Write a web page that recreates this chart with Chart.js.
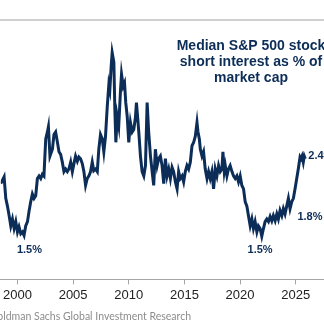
<!DOCTYPE html>
<html>
<head>
<meta charset="utf-8">
<script src="https://cdn.jsdelivr.net/npm/chart.js@4.4.0/dist/chart.umd.min.js"></script>
<style>
  html, body { margin: 0; padding: 0; background: #fff; }
  #wrap { width: 324px; height: 336px; }
</style>
</head>
<body>
<div id="wrap"><canvas id="shortChart" width="324" height="336"></canvas></div>
<script>
// Median S&P 500 stock short interest as % of market cap
const years = [
  1998.50, 1998.80, 1998.95, 1999.10, 1999.25, 1999.40, 1999.55, 1999.70, 1999.85, 2000.00,
  2000.14, 2000.30, 2000.45, 2000.59, 2000.74, 2000.90, 2001.04, 2001.19, 2001.34, 2001.49,
  2001.64, 2001.79, 2001.94, 2002.09, 2002.24, 2002.38, 2002.54, 2002.69, 2002.78, 2002.92,
  2003.14, 2003.28, 2003.43, 2003.59, 2003.73, 2003.88, 2004.03, 2004.18, 2004.33, 2004.48,
  2004.62, 2004.78, 2004.93, 2005.07, 2005.22, 2005.38, 2005.52, 2005.67, 2005.83, 2005.97,
  2006.12, 2006.27, 2006.42, 2006.57, 2006.72, 2006.86, 2007.02, 2007.17, 2007.31, 2007.46,
  2007.62, 2007.76, 2007.91, 2008.07, 2008.21, 2008.30, 2008.42, 2008.51, 2008.66, 2008.75,
  2008.84, 2008.96, 2009.10, 2009.26, 2009.35, 2009.50, 2009.62, 2009.73, 2009.86, 2010.00,
  2010.15, 2010.31, 2010.45, 2010.60, 2010.69, 2010.81, 2010.90, 2011.05, 2011.20, 2011.35,
  2011.50, 2011.65, 2011.79, 2011.95, 2012.10, 2012.24, 2012.39, 2012.55, 2012.69, 2012.84,
  2012.99, 2013.14, 2013.29, 2013.44, 2013.59, 2013.74, 2013.89, 2014.03, 2014.19, 2014.34,
  2014.48, 2014.63, 2014.79, 2014.93, 2015.08, 2015.23, 2015.38, 2015.53, 2015.68, 2015.83,
  2015.98, 2016.13, 2016.22, 2016.34, 2016.43, 2016.58, 2016.72, 2016.87, 2017.03, 2017.17,
  2017.32, 2017.47, 2017.62, 2017.77, 2017.92, 2018.07, 2018.22, 2018.37, 2018.46, 2018.58,
  2018.67, 2018.82, 2018.96, 2019.11, 2019.27, 2019.41, 2019.56, 2019.71, 2019.86, 2020.01,
  2020.16, 2020.31, 2020.46, 2020.61, 2020.75, 2020.91, 2021.06, 2021.20, 2021.35, 2021.51,
  2021.65, 2021.80, 2021.95, 2022.10, 2022.25, 2022.40, 2022.55, 2022.70, 2022.85, 2022.99,
  2023.15, 2023.30, 2023.44, 2023.59, 2023.75, 2023.89, 2024.04, 2024.19, 2024.34, 2024.49,
  2024.64, 2024.79, 2024.94, 2025.09, 2025.23, 2025.39, 2025.48, 2025.57, 2025.68, 2025.77,
  2025.86
];
const shortInterest = [
  2.09, 2.17, 1.92, 1.83, 1.72, 1.60, 1.68, 1.57, 1.65, 1.53,
  1.59, 1.51, 1.53, 1.49, 1.60, 1.65, 1.77, 1.88, 1.97, 1.92,
  1.95, 2.15, 2.18, 2.15, 2.20, 2.18, 2.61, 2.69, 2.75, 2.41,
  2.49, 2.66, 2.69, 2.57, 2.46, 2.43, 2.34, 2.23, 2.26, 2.23,
  2.26, 2.34, 2.23, 2.32, 2.41, 2.35, 2.40, 2.38, 2.32, 2.23,
  2.07, 2.15, 2.18, 2.23, 2.34, 2.24, 2.26, 2.23, 2.49, 2.66,
  2.61, 2.46, 2.64, 2.99, 3.24, 3.18, 3.45, 3.61, 3.50, 2.95,
  2.57, 2.87, 2.76, 3.18, 3.36, 3.22, 3.26, 3.03, 2.87, 2.57,
  2.80, 2.69, 2.72, 2.86, 3.03, 2.84, 2.69, 2.41, 2.23, 2.18,
  2.30, 3.03, 2.69, 2.41, 2.23, 2.07, 2.49, 2.30, 2.38, 2.41,
  2.30, 2.09, 2.38, 2.18, 2.26, 2.15, 2.28, 2.23, 2.11, 2.03,
  2.23, 2.15, 2.18, 2.11, 2.23, 2.30, 2.26, 2.34, 2.53, 2.57,
  2.64, 2.80, 2.69, 2.61, 2.49, 2.41, 2.46, 2.26, 2.15, 2.23,
  2.15, 2.23, 2.03, 2.26, 2.18, 2.30, 2.23, 2.26, 2.46, 2.23,
  2.30, 2.18, 2.26, 2.30, 2.23, 2.18, 2.15, 2.18, 2.11, 2.18,
  2.07, 2.03, 1.88, 1.83, 1.72, 1.60, 1.68, 1.57, 1.65, 1.53,
  1.60, 1.57, 1.48, 1.57, 1.65, 1.68, 1.65, 1.71, 1.66, 1.72,
  1.66, 1.74, 1.68, 1.78, 1.72, 1.80, 1.74, 1.83, 1.92, 1.80,
  1.88, 1.92, 2.03, 2.15, 2.26, 2.40, 2.38, 2.41, 2.34, 2.41,
  2.38
];
const tickYears = [2000, 2005, 2010, 2015, 2020, 2025];
const titleLines = ['Median S&P 500 stock', 'short interest as % of', 'market cap'];
const callouts = [
  { text: '1.5%', year: 2001.08, value: 1.32, align: 'center' },
  { text: '1.5%', year: 2021.80, value: 1.32, align: 'center' },
  { text: '1.8%', year: 2026.28, value: 1.70, align: 'center' },
  { text: '2.4%', year: 2026.13, value: 2.41, align: 'left' }
];
const sourceText = 'Source: Goldman Sachs Global Investment Research';

const navy = '#0c2d57';

// Draws the frame line, title, callouts and source note
const decorations = {
  id: 'decorations',
  afterDraw(chart) {
    const ctx = chart.ctx;
    const xs = chart.scales.x;
    const ys = chart.scales.y;
    ctx.save();

    // top rule
    ctx.strokeStyle = '#c0c0c0';
    ctx.lineWidth = 1.5;
    ctx.beginPath();
    ctx.moveTo(0, 20);
    ctx.lineTo(chart.width, 20);
    ctx.stroke();

    // title
    ctx.fillStyle = navy;
    ctx.font = 'bold 14px "Liberation Sans", Arial, sans-serif';
    ctx.textAlign = 'center';
    ctx.textBaseline = 'middle';
    titleLines.forEach((line, i) => ctx.fillText(line, 251, 46 + i * 16));

    // value callouts
    ctx.font = 'bold 11px "Liberation Sans", Arial, sans-serif';
    callouts.forEach(c => {
      ctx.textAlign = c.align;
      ctx.fillText(c.text, xs.getPixelForValue(c.year), ys.getPixelForValue(c.value));
    });

    // source
    ctx.fillStyle = '#8c8c8c';
    ctx.font = '10.5px Lato, sans-serif';
    ctx.textAlign = 'right';
    ctx.fillText(sourceText, 191, 317);
    ctx.restore();
  }
};

const ctx = document.getElementById('shortChart').getContext('2d');
new Chart(ctx, {
  type: 'line',
  data: {
    datasets: [{
      data: years.map((y, i) => ({ x: y, y: shortInterest[i] })),
      borderColor: navy,
      borderWidth: 3,
      pointRadius: 0,
      tension: 0,
      fill: false
    }]
  },
  options: {
    responsive: false,
    animation: false,
    layout: { padding: { top: 19, left: 0, right: 0, bottom: 30 } },
    plugins: { legend: { display: false }, tooltip: { enabled: false } },
    scales: {
      x: {
        type: 'linear',
        min: 1998.504,
        max: 2027.54,
        afterBuildTicks: scale => { scale.ticks = tickYears.map(v => ({ value: v })); },
        ticks: {
          callback: v => String(v),
          color: '#222',
          font: { family: '"Liberation Sans", Arial, sans-serif', size: 13 },
          padding: 3,
          maxRotation: 0,
          autoSkip: false
        },
        grid: { drawOnChartArea: false, drawTicks: true, tickLength: 5, color: '#a6a6a6' },
        border: { color: '#a6a6a6', width: 1 }
      },
      y: {
        display: false,
        min: 0.98,
        max: 4.0
      }
    }
  },
  plugins: [decorations]
});
</script>
</body>
</html>
